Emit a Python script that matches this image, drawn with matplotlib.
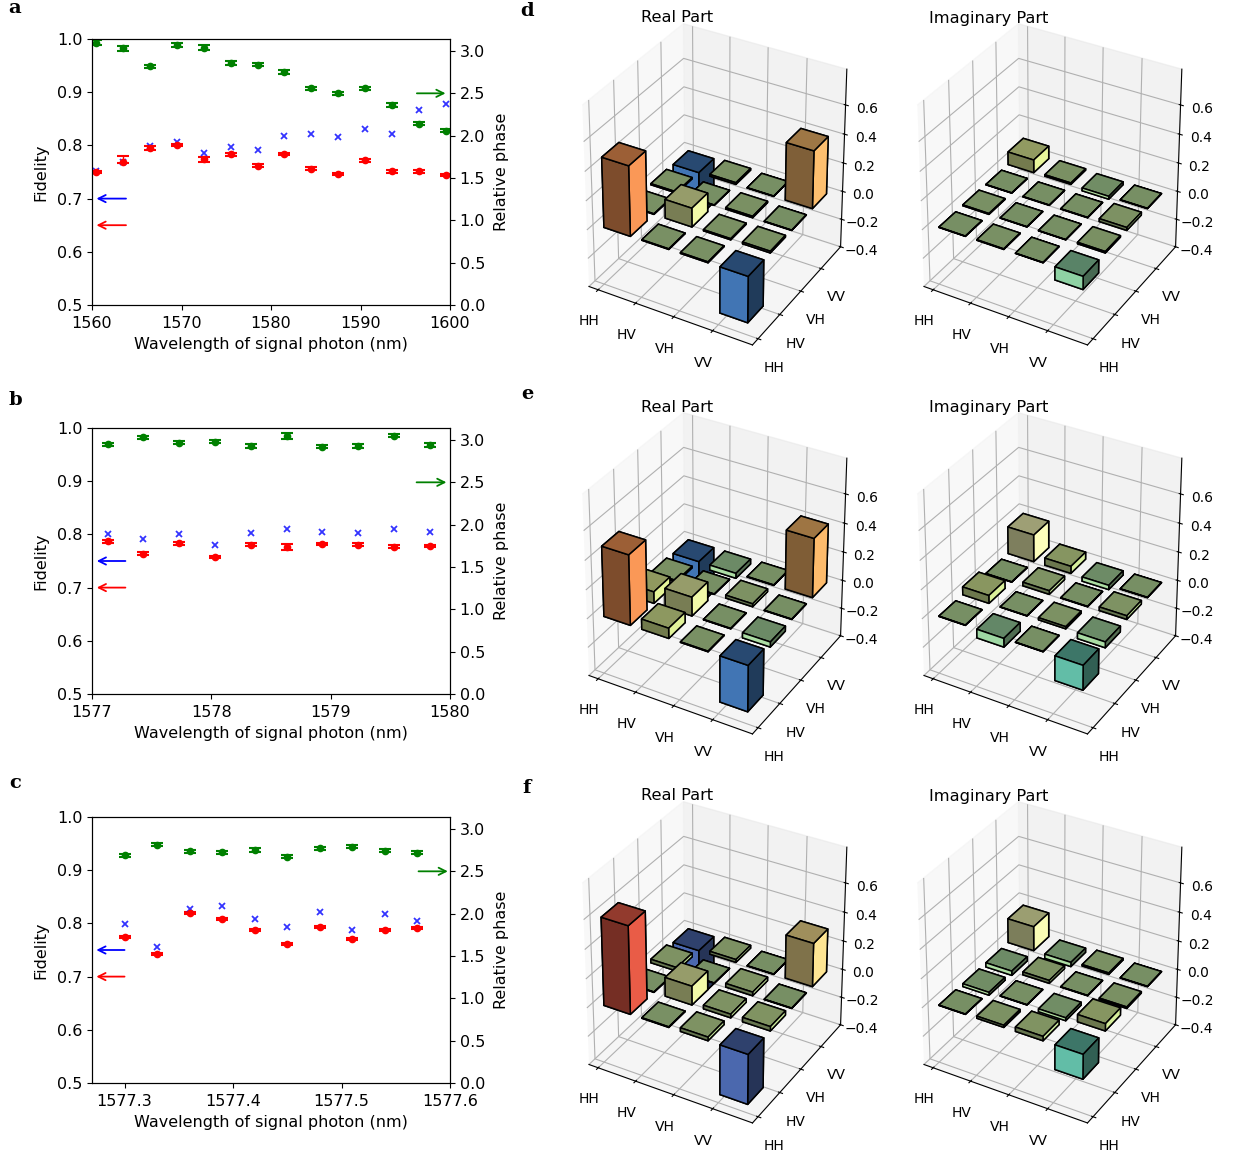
import numpy as np
import matplotlib
matplotlib.use("Agg")
import matplotlib.pyplot as plt
from mpl_toolkits.mplot3d import Axes3D  # noqa

W, H = 1235, 1155

# ---------------------------------------------------------------------------
# Data: fidelity / phase panels
# ---------------------------------------------------------------------------
xa = [1560.5, 1563.5, 1566.5, 1569.5, 1572.5, 1575.5, 1578.5, 1581.5, 1584.5, 1587.5, 1590.5, 1593.5, 1596.5, 1599.5]
red_a = [.750, .768, .795, .800, .774, .783, .762, .784, .756, .746, .772, .751, .751, .745]
red_a_lo = [.002, .002, .003, .002, .005, .003, .003, .002, .003, .002, .003, .002, .003, .002]
red_a_hi = [.002, .013, .003, .002, .005, .003, .003, .002, .003, .002, .003, .002, .003, .002]
blue_a = [.752, .769, .799, .806, .786, .797, .791, .818, .821, .816, .831, .821, .866, .877]
green_a = [3.10, 3.03, 2.82, 3.07, 3.04, 2.86, 2.84, 2.75, 2.56, 2.50, 2.56, 2.36, 2.14, 2.06]
green_a_err = [.03, .03, .02, .02, .03, .02, .02, .02, .02, .02, .02, .02, .02, .02]

xb = [1577.13, 1577.43, 1577.73, 1578.03, 1578.33, 1578.63, 1578.93, 1579.23, 1579.53, 1579.83]
red_b = [.787, .764, .783, .757, .781, .776, .782, .781, .777, .779]
red_b_err = [.003, .002, .002, .002, .002, .006, .002, .002, .003, .002]
blue_b = [.800, .792, .801, .780, .802, .811, .804, .803, .811, .804]
green_b = [2.95, 3.03, 2.97, 2.98, 2.93, 3.05, 2.92, 2.93, 3.05, 2.94]
green_b_err = [.02, .02, .02, .02, .02, .035, .02, .02, .02, .02]

xc = [1577.30, 1577.33, 1577.36, 1577.39, 1577.42, 1577.45, 1577.48, 1577.51, 1577.54, 1577.57]
red_c = [.774, .743, .819, .809, .788, .762, .794, .771, .788, .791]
red_c_err = [.002, .002, .002, .002, .002, .002, .002, .002, .002, .002]
blue_c = [.799, .755, .8275, .833, .808, .793, .822, .787, .818, .805]
green_c = [2.69, 2.815, 2.736, 2.724, 2.752, 2.673, 2.772, 2.791, 2.744, 2.72]
green_c_err = [.02, .02, .02, .02, .02, .02, .02, .02, .02, .02]

# ---------------------------------------------------------------------------
# Data: density matrices, rows = y (HH..VV), columns = x (HH..VV)
# ---------------------------------------------------------------------------
labels = ["HH", "HV", "VH", "VV"]

real_d = [[.48, .004, .006, -.32],
          [.004, .13, .008, .012],
          [.008, .002, .010, .002],
          [-.32, .012, .002, .40]]
imag_d = [[.002, .004, .002, -.09],
          [.006, .002, .002, .010],
          [.002, .002, .002, .020],
          [.09, .010, -.020, .002]]
real_e = [[.48, .07, .004, -.32],
          [.08, .13, .003, -.035],
          [.010, .002, .020, .002],
          [-.32, -.035, .003, .41]]
imag_e = [[.002, -.06, .002, -.17],
          [.055, .002, .015, -.04],
          [.002, .025, .002, .025],
          [.19, .05, -.03, .002]]
real_f = [[.60, .004, .025, -.345],
          [.003, .13, .025, .030],
          [.025, .002, .025, .002],
          [-.345, .020, .002, .30]]
imag_f = [[.002, .015, .030, -.17],
          [-.020, .002, -.020, .050],
          [-.030, .020, .002, .010],
          [.17, -.030, .010, .002]]

z_ticks = [-0.4, -0.2, 0.0, 0.2, 0.4, 0.6]

plt.rcParams["font.family"] = ["DejaVu Sans"]
fig = plt.figure(figsize=(W / 100, H / 100), dpi=100)


def px_rect(left, top, width, height):
    return [left / W, 1 - (top + height) / H, width / W, height / H]


def fidelity_panel(top, x, red, red_err, blue, green, green_err, xlim, xticks, ticklabels,
                   arrow_blue, arrow_red, arrow_green, y_blue, y_red):
    ax = fig.add_axes(px_rect(92, top, 358, 266))
    ax.errorbar(x, red, yerr=red_err, fmt="o", color="red", ms=4.5, capsize=4, elinewidth=1, capthick=1.5)
    ax.plot(x, blue, "x", color="blue", ms=4, mew=1.3, alpha=0.8)
    ax.set_xlim(*xlim)
    ax.set_ylim(0.5, 1.0)
    ax.set_xticks(xticks)
    ax.set_xticklabels(ticklabels)
    ax.set_yticks([0.5, 0.6, 0.7, 0.8, 0.9, 1.0])
    ax.set_xlabel("Wavelength of signal photon (nm)", fontsize=11.5, labelpad=4.5)
    ax.set_ylabel("Fidelity", fontsize=11.5, labelpad=6)
    ax.tick_params(labelsize=11.5)
    ax.tick_params(axis="x", pad=4.5)
    ax.annotate("", xy=(arrow_blue[1], y_blue), xytext=(arrow_blue[0], y_blue),
                arrowprops=dict(arrowstyle="->", color="blue", lw=1.3, shrinkA=0, shrinkB=0, mutation_scale=13))
    ax.annotate("", xy=(arrow_red[1], y_red), xytext=(arrow_red[0], y_red),
                arrowprops=dict(arrowstyle="->", color="red", lw=1.3, shrinkA=0, shrinkB=0, mutation_scale=13))

    ax2 = ax.twinx()
    ax2.errorbar(x, green, yerr=green_err, fmt="o", color="green", ms=4.5, capsize=4, elinewidth=1, capthick=1.5)
    ax2.set_ylim(0, np.pi)
    ax2.set_yticks([0, 0.5, 1, 1.5, 2, 2.5, 3])
    ax2.set_ylabel("Relative phase", fontsize=11.5, labelpad=6)
    ax2.tick_params(labelsize=11.5)
    ax2.annotate("", xy=(arrow_green[1], 2.5), xytext=(arrow_green[0], 2.5),
                 arrowprops=dict(arrowstyle="->", color="green", lw=1.3, shrinkA=0, shrinkB=0, mutation_scale=13))
    return ax


fidelity_panel(39, xa, red_a, [red_a_lo, red_a_hi], blue_a, green_a, green_a_err, (1560, 1600),
               [1560, 1570, 1580, 1590, 1600], ["1560", "1570", "1580", "1590", "1600"],
               (1563.8, 1560.5), (1563.8, 1560.5), (1596.3, 1599.5), 0.70, 0.65)
fidelity_panel(428, xb, red_b, red_b_err, blue_b, green_b, green_b_err, (1577, 1580),
               [1577, 1578, 1579, 1580], ["1577", "1578", "1579", "1580"],
               (1577.28, 1577.04), (1577.28, 1577.04), (1579.72, 1579.97), 0.75, 0.70)
fidelity_panel(817, xc, red_c, red_c_err, blue_c, green_c, green_c_err, (1577.27, 1577.6),
               [1577.3, 1577.4, 1577.5, 1577.6], ["1577.3", "1577.4", "1577.5", "1577.6"],
               (1577.30, 1577.274), (1577.30, 1577.274), (1577.571, 1577.598), 0.75, 0.70)

# ---------------------------------------------------------------------------
# 3D bars
# ---------------------------------------------------------------------------
cmap = matplotlib.colormaps["Spectral_r"]
norm = plt.Normalize(-0.4, 0.8)
face_up = [0.75, 0.625, 0.5, 0.875, 0.625, 1.0]     # -z +z -y +y -x +x
face_down = [0.625, 0.75, 1.0, 0.5, 0.5, 0.5]


def bar_panel(left, top, matrix):
    ax = fig.add_axes(px_rect(left, top, 349, 383), projection="3d")
    ax.apply_aspect = lambda position=None: None
    ax.set_box_aspect((1, 1, 1), zoom=0.9094)
    ax.patch.set_visible(False)  # neighbouring panels overlap
    m = np.array(matrix)
    xpos, ypos = np.meshgrid(np.arange(4), np.arange(4))
    xpos = xpos.ravel() + 0.025
    ypos = ypos.ravel() + 0.025
    dz = m.ravel()
    colors = []
    for v in dz:
        c = np.array(cmap(norm(v)))
        for f in (face_up if v >= 0 else face_down):
            colors.append(np.append(c[:3] * f, 1.0))
    ax.bar3d(xpos, ypos, np.zeros(16), 0.7, 0.7, dz, color=colors, edgecolor="k",
             linewidth=1.1, shade=False)
    ax.set_xlim(-0.25, 4, view_margin=0)
    ax.set_ylim(-0.25, 4, view_margin=0)
    ax.set_zlim(-0.4, 0.84, view_margin=0)
    ax.set_xticks(np.arange(4))
    ax.set_yticks(np.arange(4))
    ax.set_xticklabels(labels)
    ax.set_yticklabels(labels)
    ax.set_zticks(z_ticks)
    ax.tick_params(axis="x", labelsize=10, pad=4.5)
    ax.tick_params(axis="y", labelsize=10, pad=5)
    ax.tick_params(axis="z", labelsize=10, pad=3.5)
    return ax


for row, (re, im) in enumerate([(real_d, imag_d), (real_e, imag_e), (real_f, imag_f)]):
    y0 = -7.5 + 389 * row
    bar_panel(537.5, y0, re)
    bar_panel(872.5, y0, im)
    fig.text(677 / W, 1 - (18 + 389 * row) / H, "Real Part", ha="center", va="center", fontsize=11.7)
    fig.text(989 / W, 1 - (18 + 389 * row) / H, "Imaginary Part", ha="center", va="center", fontsize=11.7)

for letter, x, y in [("a", 15, 8), ("b", 15, 400), ("c", 15, 783), ("d", 527, 11), ("e", 527, 394), ("f", 527, 788)]:
    fig.text(x / W, 1 - y / H, letter, family="DejaVu Serif", weight="bold", fontsize=14, ha="center", va="center")

fig.savefig("out.png", dpi=100)
